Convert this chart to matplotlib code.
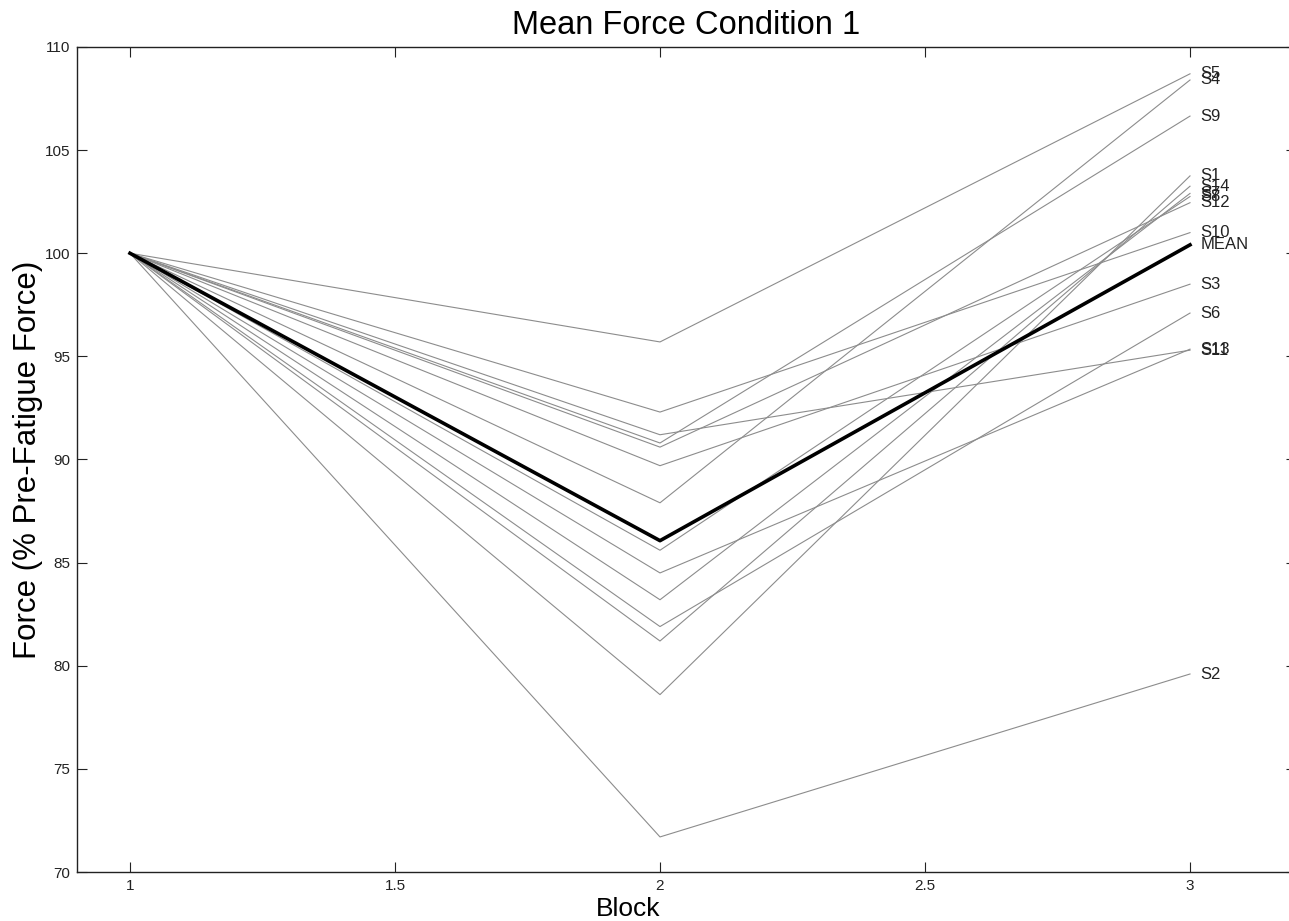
import matplotlib
matplotlib.use("Agg")
import matplotlib.pyplot as plt

plt.rcParams['font.family'] = ['Liberation Sans', 'DejaVu Sans']

blocks = [1, 2, 3]
subjects = ["S1", "S2", "S3", "S4", "S5", "S6", "S7", "S8", "S9", "S10", "S11", "S12", "S13", "S14"]
block1 = [100.0] * 14
block2 = [78.6, 71.7, 89.7, 87.9, 95.7, 81.9, 83.2, 85.6, 90.8, 92.3, 91.2, 90.6, 84.5, 81.2]
block3 = [103.75, 79.6, 98.5, 108.4, 108.7, 97.1, 102.9, 102.75, 106.65, 101.0, 95.3, 102.45, 95.35, 103.25]
mean_label = "MEAN"

fig = plt.figure(figsize=(12.89, 9.21), dpi=100)
ax = fig.add_axes([77/1289, 49/921, (1296-77)/1289, (872-47)/921])

for name, a, b, c in zip(subjects, block1, block2, block3):
    ax.plot(blocks, [a, b, c], color='#8c8c8c', lw=0.8)
    ax.text(3.02, c, name, fontsize=12, va='center', ha='left', color='#222222')

mean_vals = [sum(block1)/len(block1), sum(block2)/len(block2), sum(block3)/len(block3)]
ax.plot(blocks, mean_vals, color='black', lw=2.6)
ax.text(3.02, mean_vals[2], mean_label, fontsize=12, va='center', ha='left', color='#222222')

ax.set_xlim(0.9, 3.2)
ax.set_ylim(70, 110)
ax.set_xticks([1, 1.5, 2, 2.5, 3])
ax.set_xticklabels(["1", "1.5", "2", "2.5", "3"])
ax.set_yticks(range(70, 111, 5))
ax.tick_params(direction='in', length=7.5, width=0.8, top=True, right=True, labelsize=11, colors='#222222', pad=5)
for s in ax.spines.values():
    s.set_color('#222222')
    s.set_linewidth(1.0)

ax.set_title("Mean Force Condition 1", fontsize=23.5, pad=9)
ax.set_xlabel("Block", fontsize=19)
ax.xaxis.set_label_coords(0.452, -0.030)
ax.set_ylabel("Force (% Pre-Fatigue Force)", fontsize=22.5)
ax.yaxis.set_label_coords(-0.028, 0.5)

fig.savefig("out.png", dpi=100)
